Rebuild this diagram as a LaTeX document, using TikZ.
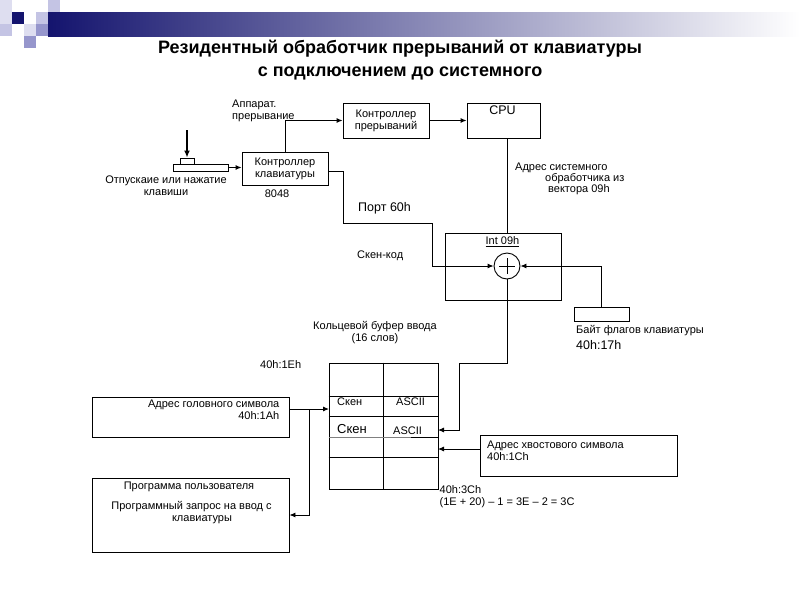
\documentclass[tikz,border=0pt]{standalone}
\usepackage{fontspec}
\setmainfont{Liberation Sans}
\usetikzlibrary{arrows.meta}

\definecolor{navy}{RGB}{20,20,110}
\definecolor{lav}{RGB}{150,150,204}
\definecolor{lavlight}{RGB}{196,196,228}
\definecolor{lavpale}{RGB}{222,222,240}

\begin{document}
\begin{tikzpicture}[x=1pt, y=-1pt,
box/.style={draw, line width=0.9pt, inner sep=0pt},
txt/.style={font=\fontsize{11}{12}\selectfont, inner sep=0pt},
big/.style={font=\fontsize{12.5}{14}\selectfont, inner sep=0pt},
wire/.style={line width=0.9pt},
arr/.style={wire, -{Latex[length=6pt, width=5pt]}}]

\useasboundingbox (0,0) rectangle (800,600);

% header squares and bar
\foreach \sx/\sy/\sc in {0/0/lavpale, 48/0/lavlight, 0/12/lavpale, 12/12/navy,
  36/12/lavlight, 0/24/lavlight, 24/24/lavpale, 36/24/lav, 24/36/lav}
  \fill[\sc] (\sx,\sy) rectangle ++(12,12);
\shade[left color=navy, right color=white] (48,12) rectangle (800,36);

\node[font=\fontsize{18}{23}\selectfont\bfseries, align=center, anchor=north, inner sep=0pt]
  (title) at (400,40) {Резидентный обработчик прерываний от клавиатуры\\с подключением до системного};

% keyboard side
\node[box, minimum width=14pt, minimum height=6pt] (keytop) at (187,161) {};
\node[box, minimum width=55pt, minimum height=7pt] (keybase) at (200.5,167.5) {};
\coordinate (press) at (187,130);
\node[txt, align=center, anchor=north] (keytxt) at (166,176) {Отпускаие или нажатие\\клавиши};

\node[box, txt, align=center, minimum width=86pt, minimum height=33pt] (kctrl) at (285,168.5) {Контроллер\\клавиатуры};
\node[txt, anchor=north] (chip) at (277,190) {8048};
\node[txt, align=left, anchor=north west] (hwint) at (232,99.5) {Аппарат.\\прерывание};

\node[box, txt, align=center, minimum width=86pt, minimum height=35pt] (ictrl) at (386,120.5) {Контроллер\\прерываний};
\node[box, minimum width=73pt, minimum height=35pt] (cpu) at (503.5,120.5) {};
\node[big, anchor=north] (cpulbl) at (502.5,105.5) {CPU};

\node[txt, anchor=north west] (vec1) at (515,162.5) {Адрес системного};
\node[txt, anchor=north west] (vec2) at (545,173.5) {обработчика из};
\node[txt, anchor=north west] (vec3) at (548,184.5) {вектора 09h};

\node[big, anchor=north west] (port) at (358,202.5) {Порт 60h};
\node[txt, anchor=north west] (scancode) at (357,251) {Скен-код};

% Int 09h
\node[box, minimum width=116pt, minimum height=67pt] (intbox) at (503,266.5) {};
\node[txt, anchor=north] (intlbl) at (502.5,236.5) {\underline{Int 09h}};
\node[draw, circle, line width=0.9pt, minimum size=26pt, inner sep=0pt] (sum) at (507,266) {};
\draw[wire] ([xshift=-8pt]sum.center) -- ([xshift=8pt]sum.center);
\draw[wire] ([yshift=-8pt]sum.center) -- ([yshift=8pt]sum.center);

\node[box, minimum width=55pt, minimum height=14pt] (flags) at (601.5,314) {};
\node[txt, anchor=north west] (flagstxt) at (576,325) {Байт флагов клавиатуры};
\node[big, anchor=north west] (flagsadr) at (576,340) {40h:17h};

% ring buffer
\node[txt, align=center, anchor=north] (buftxt) at (375,321.5) {Кольцевой буфер ввода\\(16 слов)};
\node[txt, anchor=north west] (bufstart) at (260,360) {40h:1Eh};
\node[box, minimum width=109pt, minimum height=126pt] (buf) at (383.5,426) {};
\foreach \ry in {396,416,437,457}
  \draw[wire] (buf.west |- 0,\ry) -- (buf.east |- 0,\ry);
\draw[wire] (buf.north) -- (buf.south);
\draw[gray, line width=1pt] (329,437) -- (411,437);
\node[txt, anchor=north west] (scan1) at (337,398) {Скен};
\node[txt, anchor=north west] (ascii1) at (396,398) {ASCII};
\node[inner sep=0pt, font=\fontsize{13}{15}\selectfont, anchor=north west] (scan2) at (337,424) {Скен};
\node[txt, anchor=north west] (ascii2) at (393,427) {ASCII};
\node[txt, align=left, anchor=north west] (bufend) at (439.5,485) {40h:3Ch\\(1E + 20) – 1 = 3E – 2 = 3C};

\node[box, minimum width=197pt, minimum height=40pt] (head) at (190.5,417) {};
\node[txt, align=right, anchor=north east] (headtxt) at (279.5,400) {Адрес головного символа\\40h:1Ah};
\node[box, minimum width=197pt, minimum height=41pt] (tail) at (578.5,455.5) {};
\node[txt, align=left, anchor=north west] (tailtxt) at (487,440.5) {Адрес хвостового символа\\40h:1Ch};

\node[box, minimum width=197pt, minimum height=74pt] (prog) at (190.5,515) {};
\node[txt, anchor=north] (progtxt) at (189,481.5) {Программа пользователя};
\node[txt, anchor=north] (req1) at (191.5,501.5) {Программный запрос на ввод с};
\node[txt, anchor=north] (req2) at (202,515) {клавиатуры};

% connectors
\coordinate (bend1) at (343,223);
\coordinate (bend2) at (432,266);
\coordinate (ringtop) at (459,363);
\coordinate (in1) at (438,430);
\coordinate (in2) at (438,449);
\coordinate (headin) at (329,409);
\coordinate (branch) at (309,409);

\draw[line width=2pt, -{Latex[length=7pt, width=6pt]}] (press) -- (keytop.north);
\draw[arr] (keybase.east) -- (keybase.east -| kctrl.west);
\draw[arr] (kctrl.north) |- (ictrl.west);
\draw[arr] (ictrl.east) -- (cpu.west);
\draw[wire] (cpu.south -| sum) -- (intbox.north -| sum);
\draw[arr] ([yshift=-2.5pt]kctrl.east) -| (bend1) -| (bend2) -- (sum.west);
\draw[arr] (flags.north) |- (sum.east);
\draw[arr] (sum.south) |- (ringtop) |- (in1);
\draw[arr] ([yshift=6.5pt]tail.west) -- (in2);
\draw[arr] ([yshift=8pt]head.east) -- (headin);
\draw[arr] (branch) |- (prog.east);

\end{tikzpicture}
\end{document}
